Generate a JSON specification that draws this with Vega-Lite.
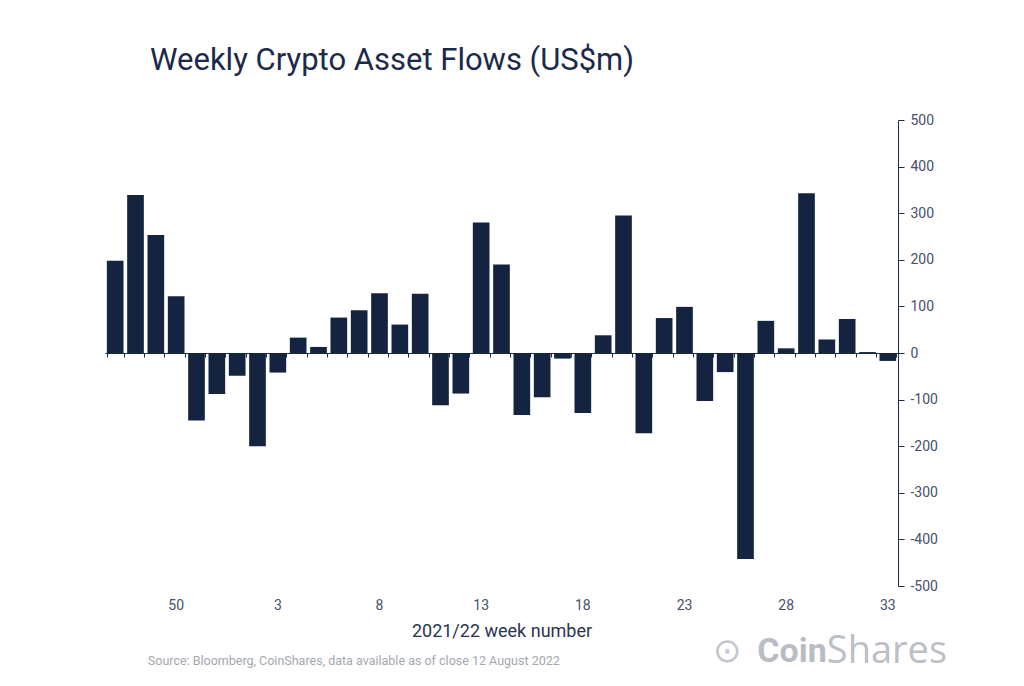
{
  "$schema": "https://vega.github.io/schema/vega-lite/v6.json",
  "width": 793,
  "height": 466,
  "autosize": {"type": "none"},
  "padding": {"left": 105, "top": 120, "right": 126, "bottom": 100},
  "background": "white",
  "title": {
    "text": "Weekly Crypto Asset Flows (US$m)",
    "anchor": "start",
    "frame": "group",
    "dx": 45,
    "offset": 36,
    "font": "Roboto",
    "fontSize": 31,
    "fontWeight": "normal",
    "color": "#1b2a4b"
  },
  "config": {
    "view": {"stroke": null},
    "font": "Roboto"
  },
  "data": {
    "values": [
      {"week": "47", "flow": 198},
      {"week": "48", "flow": 339},
      {"week": "49", "flow": 253},
      {"week": "50", "flow": 122},
      {"week": "51", "flow": -145},
      {"week": "52", "flow": -88},
      {"week": "1", "flow": -49},
      {"week": "2", "flow": -200},
      {"week": "3", "flow": -42},
      {"week": "4", "flow": 33},
      {"week": "5", "flow": 13},
      {"week": "6", "flow": 76},
      {"week": "7", "flow": 92},
      {"week": "8", "flow": 128},
      {"week": "9", "flow": 61},
      {"week": "10", "flow": 127},
      {"week": "11", "flow": -112},
      {"week": "12", "flow": -87},
      {"week": "13", "flow": 280},
      {"week": "14", "flow": 190},
      {"week": "15", "flow": -133},
      {"week": "16", "flow": -95},
      {"week": "17", "flow": -12},
      {"week": "18", "flow": -129},
      {"week": "19", "flow": 38},
      {"week": "20", "flow": 295},
      {"week": "21", "flow": -172},
      {"week": "22", "flow": 75},
      {"week": "23", "flow": 99},
      {"week": "24", "flow": -103},
      {"week": "25", "flow": -41},
      {"week": "26", "flow": -442},
      {"week": "27", "flow": 69},
      {"week": "28", "flow": 10},
      {"week": "29", "flow": 343},
      {"week": "30", "flow": 29},
      {"week": "31", "flow": 73},
      {"week": "32", "flow": 2},
      {"week": "33", "flow": -17}
    ]
  },
  "resolve": {"axis": {"x": "independent"}},
  "layer": [
    {
      "mark": {"type": "bar", "color": "#14233f"},
      "encoding": {
        "x": {
          "field": "week",
          "type": "nominal",
          "sort": null,
          "scale": {"paddingInner": 0.18, "paddingOuter": 0.09},
          "axis": {
            "orient": "bottom",
            "values": ["50", "3", "8", "13", "18", "23", "28", "33"],
            "labelAngle": 0,
            "ticks": false,
            "domain": false,
            "labelPadding": 12,
            "labelFontSize": 14,
            "labelColor": "#46506a",
            "title": "2021/22 week number",
            "titleFontSize": 18,
            "titleFontWeight": "normal",
            "titleColor": "#2a3552",
            "titlePadding": 10
          }
        },
        "y": {
          "field": "flow",
          "type": "quantitative",
          "scale": {"domain": [-500, 500], "nice": false, "zero": false},
          "axis": {
            "orient": "right",
            "values": [-500, -400, -300, -200, -100, 0, 100, 200, 300, 400, 500],
            "labelExpr": "replace(datum.label, '−', '-')",
            "grid": false,
            "title": null,
            "domainColor": "#1b2a4b",
            "tickColor": "#1b2a4b",
            "tickSize": 6,
            "labelPadding": 6,
            "labelFontSize": 14,
            "labelColor": "#46506a"
          }
        }
      }
    },
    {
      "mark": {"type": "bar", "opacity": 0},
      "encoding": {
        "x": {
          "field": "week",
          "type": "nominal",
          "sort": null,
          "axis": {
            "orient": "bottom",
            "offset": -233,
            "labels": false,
            "title": null,
            "tickBand": "extent",
            "tickExtra": true,
            "tickSize": 4,
            "tickColor": "#1b2a4b",
            "domain": true,
            "domainColor": "#1b2a4b",
            "domainWidth": 1.2
          }
        },
        "y": {"field": "flow", "type": "quantitative"}
      }
    },
    {
      "data": {"values": [{}]},
      "mark": {"type": "text", "align": "left", "baseline": "middle", "dx": -8, "fontSize": 12.5, "color": "#a3a8b0"},
      "encoding": {
        "x": {"datum": "49", "type": "nominal", "axis": null},
        "y": {"datum": -661, "type": "quantitative"},
        "text": {"value": "Source: Bloomberg, CoinShares, data available as of close 12 August 2022"}
      }
    },
    {
      "data": {"values": [{}]},
      "mark": {"type": "text", "align": "right", "baseline": "middle", "fontSize": 34, "fontWeight": "bold", "color": "#b9bdc3"},
      "encoding": {
        "x": {"datum": "30", "type": "nominal", "axis": null},
        "y": {"datum": -641, "type": "quantitative"},
        "text": {"value": "Coin"}
      }
    },
    {
      "data": {"values": [{}]},
      "mark": {"type": "text", "align": "left", "baseline": "middle", "font": "Open Sans", "fontSize": 38, "fontWeight": "normal", "color": "#bcc0c6"},
      "encoding": {
        "x": {"datum": "30", "type": "nominal", "axis": null},
        "y": {"datum": -641, "type": "quantitative"},
        "text": {"value": "Shares"}
      }
    },
    {
      "data": {"values": [{}]},
      "mark": {"type": "text", "align": "right", "baseline": "middle", "dx": -86, "fontSize": 34, "color": "#c3c7cc"},
      "encoding": {
        "x": {"datum": "30", "type": "nominal", "axis": null},
        "y": {"datum": -641, "type": "quantitative"},
        "text": {"value": "⊙"}
      }
    }
  ]
}
